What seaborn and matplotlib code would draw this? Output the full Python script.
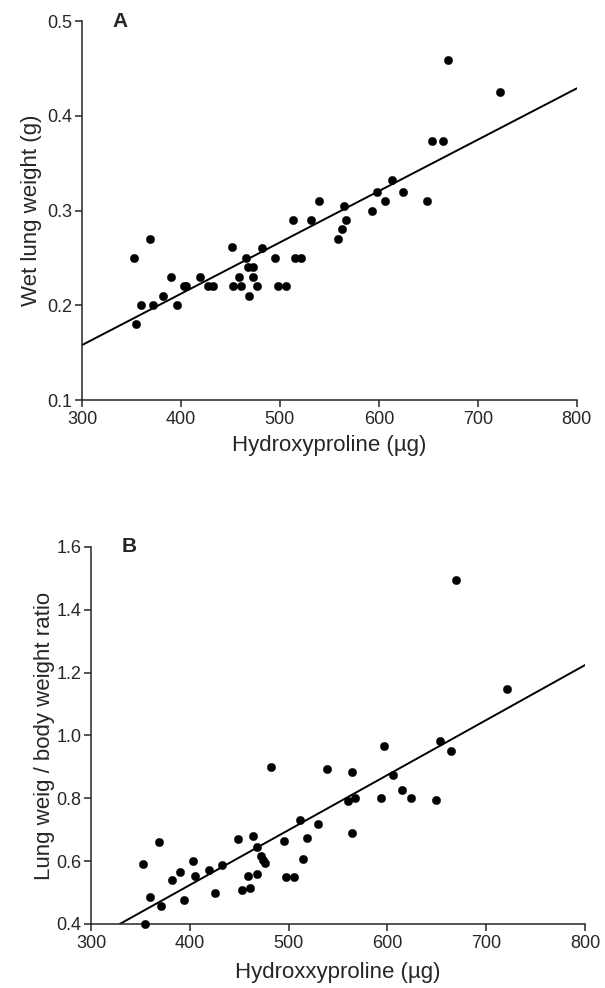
import seaborn as sns
import matplotlib.pyplot as plt
import pandas as pd

# panel A: hydroxyproline vs wet lung weight
hyp_a = [352.7, 355, 360, 369, 372, 382, 390, 396, 403, 405, 419.5, 427, 432,
         451.5, 453, 458.6, 460.5, 466, 468, 468.4, 473, 473, 477, 482, 495,
         497.7, 506, 513, 515, 521, 531.6, 539, 559, 563, 565, 567, 593, 598,
         606, 613, 624.6, 648.8, 654, 665, 670, 722]
wet_a = [0.25, 0.18, 0.20, 0.27, 0.20, 0.21, 0.23, 0.20, 0.22, 0.22, 0.23, 0.22,
         0.22, 0.262, 0.22, 0.23, 0.22, 0.25, 0.24, 0.21, 0.24, 0.23, 0.22, 0.26,
         0.25, 0.22, 0.22, 0.29, 0.25, 0.25, 0.29, 0.31, 0.27, 0.28, 0.305, 0.29,
         0.30, 0.32, 0.31, 0.332, 0.32, 0.31, 0.373, 0.373, 0.459, 0.425]

# panel B: hydroxyproline vs lung/body weight ratio
hyp_b = [352.6, 354.6, 360, 369, 371, 382.4, 390, 394, 403, 405, 419.7, 426,
         432.7, 449, 453, 459, 461.3, 463.7, 468, 468.4, 472, 474, 476.6, 482,
         495.4, 497, 505.6, 511.5, 514.3, 519, 530, 538.6, 560, 563.7, 564.5,
         567.7, 594, 596.3, 606, 614.4, 623.8, 649.7, 652.8, 664, 669.7, 721]
ratio_b = [0.592, 0.40, 0.487, 0.662, 0.458, 0.540, 0.566, 0.476, 0.60, 0.552,
           0.571, 0.50, 0.587, 0.670, 0.507, 0.554, 0.513, 0.681, 0.646, 0.560,
           0.617, 0.605, 0.594, 0.90, 0.665, 0.549, 0.549, 0.732, 0.608, 0.673,
           0.718, 0.894, 0.793, 0.884, 0.690, 0.801, 0.801, 0.966, 0.875, 0.828,
           0.801, 0.795, 0.983, 0.952, 1.494, 1.149]

# regression lines as drawn in the figure
fit_x = [300, 800]
fit_a = [0.158, 0.429]
fit_b = [0.349, 1.224]

x_ticks = [300, 400, 500, 600, 700, 800]
y_ticks_a = [0.1, 0.2, 0.3, 0.4, 0.5]
y_ticks_b = [0.4, 0.6, 0.8, 1.0, 1.2, 1.4, 1.6]

df_a = pd.DataFrame({'hyp': hyp_a, 'val': wet_a})
df_b = pd.DataFrame({'hyp': hyp_b, 'val': ratio_b})
line_a = pd.DataFrame({'hyp': fit_x, 'val': fit_a})
line_b = pd.DataFrame({'hyp': fit_x, 'val': fit_b})

sns.set_style("ticks")
plt.rcParams['font.family'] = ['Liberation Sans', 'DejaVu Sans']
plt.rcParams['axes.linewidth'] = 1.1
plt.rcParams['xtick.major.width'] = 1.1
plt.rcParams['ytick.major.width'] = 1.1
plt.rcParams['xtick.major.size'] = 5
plt.rcParams['ytick.major.size'] = 5
plt.rcParams['xtick.major.pad'] = 3
plt.rcParams['ytick.major.pad'] = 2

fig = plt.figure(figsize=(6.05, 9.88), dpi=100)
ax_a = fig.add_axes([0.1355, 0.5951, 0.818, 0.3836])
ax_b = fig.add_axes([0.1504, 0.0648, 0.8165, 0.3816])

panels = [
    (ax_a, df_a, line_a, y_ticks_a, (0.1, 0.5), 'Wet lung weight (g)',
     'Hydroxyproline (\u00b5g)', 'A', 5, 4),
    (ax_b, df_b, line_b, y_ticks_b, (0.4, 1.6), 'Lung weig / body weight ratio',
     'Hydroxxyproline (\u00b5g)', 'B', 7, 1),
]

for ax, df, line, yt, ylim, ylab, xlab, tag, xpad, ypad in panels:
    sns.lineplot(data=line, x='hyp', y='val', ax=ax, color='black', lw=1.4)
    sns.scatterplot(data=df, x='hyp', y='val', ax=ax, color='black', s=36,
                    edgecolor='black', linewidth=0.3, zorder=3, clip_on=False)
    ax.set_xlim(300, 800)
    ax.set_ylim(*ylim)
    ax.set_xticks(x_ticks)
    ax.set_xticklabels([str(t) for t in x_ticks], fontsize=13)
    ax.set_yticks(yt)
    ax.set_yticklabels(['{:.1f}'.format(t) for t in yt], fontsize=13)
    ax.set_xlabel(xlab, fontsize=16, labelpad=xpad)
    ax.set_ylabel(ylab, fontsize=16, labelpad=ypad)
    ax.text(0.077, 1.0, tag, transform=ax.transAxes, fontsize=15,
            fontweight='bold', ha='center', va='center')
    sns.despine(ax=ax)

plt.savefig('out.png', dpi=100)
